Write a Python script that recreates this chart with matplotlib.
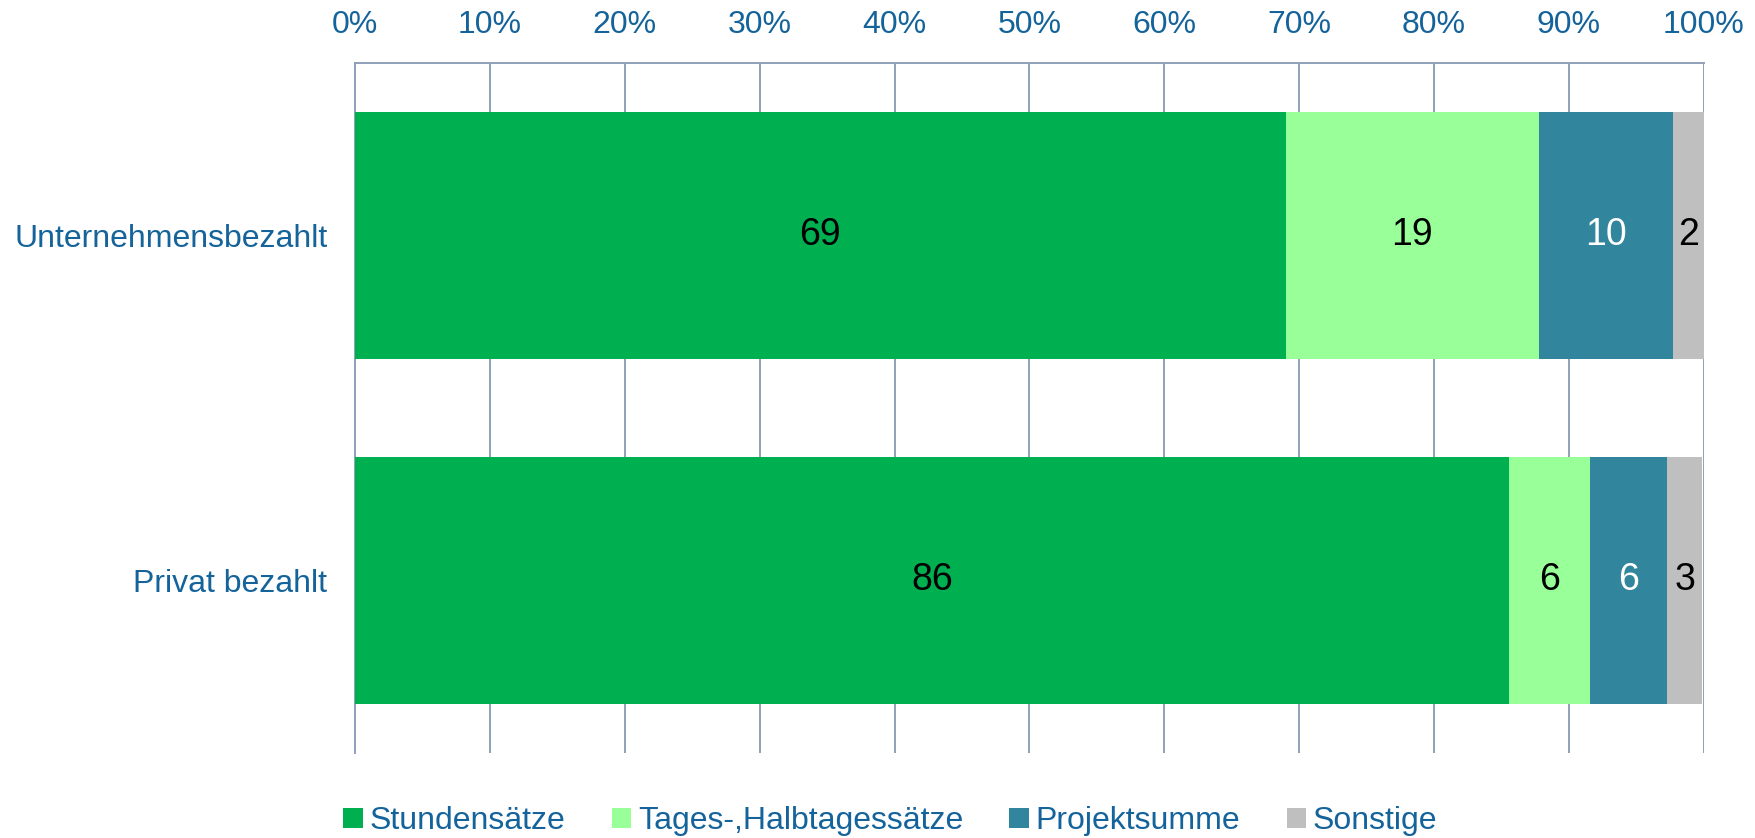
import matplotlib
matplotlib.use("Agg")
import matplotlib.pyplot as plt
from matplotlib import font_manager
from matplotlib.patches import Patch
import numpy as np

categories = ["Unternehmensbezahlt", "Privat bezahlt"]
series = ["Stundensätze", "Tages-,Halbtagessätze", "Projektsumme", "Sonstige"]
stundensaetze = [69.0, 85.6]
tagessaetze = [18.8, 6.0]
projektsumme = [9.9, 5.7]
sonstige = [2.3, 2.6]
xticks = [0, 10, 20, 30, 40, 50, 60, 70, 80, 90, 100]

colors = ["#00B050", "#99FF99", "#31859C", "#BFBFBF"]
label_colors = ["black", "black", "white", "black"]
text_color = "#14639A"
grid_color = "#8EA0B8"


def pick_font(names):
    for n in names:
        try:
            font_manager.findfont(n, fallback_to_default=False)
            return n
        except Exception:
            pass
    return "DejaVu Sans"


main_font = pick_font(["Liberation Sans", "Arial"])
narrow_font = pick_font(["Liberation Sans Narrow", "Arial Narrow", main_font])
plt.rcParams["font.family"] = [main_font, "DejaVu Sans"]

fig = plt.figure(figsize=(17.56, 8.38), dpi=100)
ax = fig.add_axes([0.2022, 0.1018, 0.7680, 0.8234])

y = np.arange(len(categories))
left = np.zeros(len(categories))
values = [stundensaetze, tagessaetze, projektsumme, sonstige]
for vals, col, lc, name in zip(values, colors, label_colors, series):
    bars = ax.barh(y, vals, left=left, height=0.717, color=col, label=name, zorder=3)
    ax.bar_label(bars, labels=["%.0f" % v for v in vals], label_type="center",
                 color=lc, fontsize=27, family=narrow_font)
    left += np.array(vals)

ax.set_xlim(0, 100)
ax.set_ylim(1.5, -0.5)
ax.xaxis.tick_top()
ax.set_xticks(xticks)
ax.set_xticklabels(["%d%%" % t for t in xticks])
ax.set_yticks(y)
ax.set_yticklabels(categories)
ax.tick_params(axis="x", length=0, pad=16, labelsize=23, labelcolor=text_color)
ax.tick_params(axis="y", length=0, pad=20, labelsize=23, labelcolor=text_color)
ax.grid(axis="x", color=grid_color, linewidth=1.4, zorder=0)
ax.set_axisbelow(True)
for s in ["bottom", "right"]:
    ax.spines[s].set_visible(False)
for s in ["top", "left"]:
    ax.spines[s].set_color(grid_color)
    ax.spines[s].set_linewidth(1.4)

handles = [Patch(facecolor=c, edgecolor="none") for c in colors]
leg = fig.legend(handles, series, loc="center", bbox_to_anchor=(0.507, 0.02), ncol=4,
                 frameon=False, fontsize=23, handlelength=0.62, handleheight=0.62,
                 handletextpad=0.2, columnspacing=1.45, borderpad=0)
for t in leg.get_texts():
    t.set_color(text_color)

fig.savefig("out.png", dpi=100)
